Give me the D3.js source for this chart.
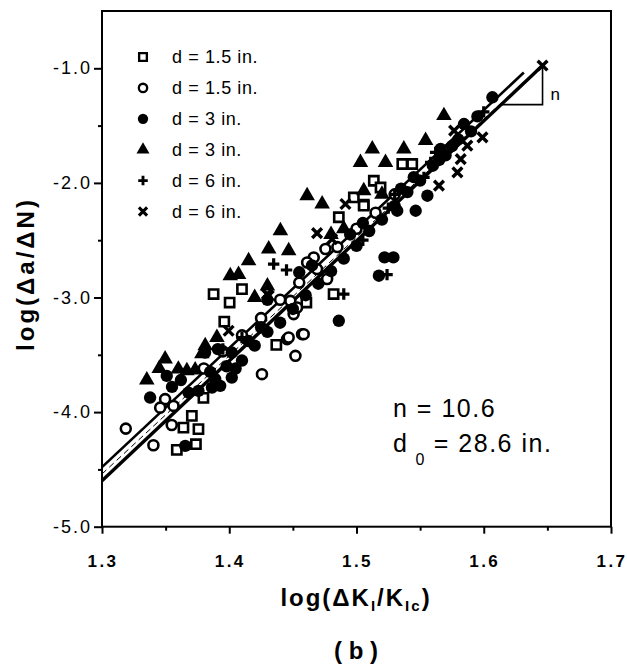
<!DOCTYPE html>
<html>
<head>
<meta charset="utf-8">
<script src="https://cdn.jsdelivr.net/npm/d3@7"></script>
<style>
  body { margin: 0; background: #fff; }
  text { font-family: "Liberation Sans", Arial, Helvetica, sans-serif; fill: #000; }
</style>
</head>
<body>
<div id="chart"></div>
<script>
// x = log(dK/KIc), y = log(da/dN)
const openSquares = [
  [1.3588, -4.330], [1.3738, -4.280], [1.3706, -4.033], [1.3640, -4.135], [1.3758, -4.149],
  [1.3797, -3.876], [1.3877, -2.970], [1.4003, -3.044], [1.3961, -3.210], [1.4100, -2.927],
  [1.4370, -3.413], [1.4606, -3.044], [1.4820, -2.970], [1.4861, -2.300], [1.5057, -2.190],
  [1.5360, -1.835], [1.5438, -1.835], [1.5136, -1.981], [1.4979, -2.127], [1.5057, -2.199],
  [1.5189, -2.040]
];
const openCircles = [
  [1.3187, -4.144], [1.3404, -4.289], [1.3548, -4.113], [1.3496, -3.887], [1.3562, -3.946],
  [1.3457, -3.961], [1.4257, -3.669], [1.4454, -3.363], [1.4572, -3.320], [1.4520, -3.509],
  [1.4506, -3.145], [1.4756, -2.577], [1.4664, -2.651], [1.4612, -2.694], [1.4769, -2.839],
  [1.4690, -2.752], [1.4480, -3.029], [1.4533, -3.087], [1.4585, -3.320], [1.4467, -3.349],
  [1.3800, -3.620], [1.3950, -3.470], [1.4100, -3.330], [1.4250, -3.180], [1.4400, -3.020],
  [1.4550, -2.870], [1.4850, -2.560], [1.5000, -2.400], [1.5150, -2.260], [1.5300, -2.100]
];
const filledCircles = [
  [1.3509, -3.684], [1.3378, -3.873], [1.3654, -4.295], [1.3758, -3.815], [1.3864, -3.786],
  [1.3929, -3.771], [1.3890, -3.712], [1.4020, -3.699], [1.3810, -3.480], [1.3910, -3.450],
  [1.4020, -3.480], [1.3680, -3.830], [1.3980, -3.600], [1.4050, -3.620], [1.4100, -3.550],
  [1.4200, -3.420], [1.4300, -3.300], [1.4400, -3.220], [1.4500, -3.100], [1.4600, -2.980],
  [1.4700, -2.880], [1.4800, -2.770], [1.4900, -2.660], [1.5000, -2.550], [1.5100, -2.420],
  [1.5200, -2.320], [1.5300, -2.200], [1.5400, -2.080], [1.5500, -1.980], [1.5600, -1.850],
  [1.5700, -1.760], [1.5800, -1.620], [1.4861, -3.203], [1.5220, -2.650], [1.5290, -2.650],
  [1.5176, -2.810], [1.5557, -2.112], [1.5465, -2.243], [1.5320, -2.243], [1.6068, -1.253],
  [1.5845, -1.486], [1.5661, -1.704], [1.3550, -3.780], [1.3620, -3.720], [1.3850, -3.650],
  [1.4300, -3.020], [1.4550, -2.780], [1.4650, -2.720], [1.4950, -2.450], [1.5050, -2.350],
  [1.5350, -2.050], [1.5450, -1.950], [1.5650, -1.800], [1.5750, -1.680], [1.5900, -1.550],
  [1.5950, -1.420], [1.4150, -3.380], [1.4250, -3.260]
];
const triangles = [
  [1.3496, -3.537], [1.3352, -3.719], [1.3600, -3.625], [1.3667, -3.640], [1.3732, -3.632],
  [1.3785, -3.490], [1.3903, -3.350], [1.3811, -3.420], [1.4008, -2.810], [1.4073, -2.800],
  [1.4152, -2.680], [1.4402, -2.417], [1.4310, -2.577], [1.4467, -2.592], [1.4730, -2.184],
  [1.4612, -2.112], [1.5124, -1.704], [1.5031, -1.821], [1.5228, -1.821], [1.5057, -2.068],
  [1.5372, -1.704], [1.5543, -1.631], [1.5687, -1.413], [1.4200, -3.000], [1.4300, -2.900],
  [1.4800, -2.450], [1.4900, -2.400], [1.5200, -2.100], [1.3450, -3.620]
];
const pluses = [
  [1.3950, -3.450], [1.4100, -3.350], [1.4450, -2.760], [1.4349, -2.708], [1.4900, -2.970],
  [1.5050, -2.500], [1.5300, -2.100], [1.5530, -1.952], [1.5583, -1.821], [1.5622, -1.734],
  [1.6000, -1.380], [1.5250, -2.220], [1.5240, -2.800]
];
const crosses = [
  [1.6462, -0.976], [1.5990, -1.603], [1.5819, -1.792], [1.5793, -1.908], [1.5648, -2.024],
  [1.5871, -1.675], [1.5767, -1.544], [1.4690, -2.438], [1.4808, -2.490], [1.4913, -2.184],
  [1.4297, -2.970], [1.3995, -3.290], [1.4310, -2.985]
];

const legendLabels = ['d = 1.5 in.', 'd = 1.5 in.', 'd = 3 in.', 'd = 3 in.', 'd = 6 in.', 'd = 6 in.'];

// fitted lines [x0, y0, x1, y1]
const fitUpper = [1.300, -4.48, 1.6315, -1.037];
const fitMiddle = [1.300, -4.54, 1.6440, -0.990];
const fitLower = [1.300, -4.60, 1.6462, -0.976];
const slopeTri = [[1.6136, -1.317], [1.6462, -1.317], [1.6462, -0.990]];

const xTicks = [1.3, 1.4, 1.5, 1.6, 1.7];
const yTicks = [-5.0, -4.0, -3.0, -2.0, -1.0];

const width = 627, height = 667;
const margin = { top: 11, right: 16, bottom: 141, left: 102 };

const svg = d3.select('#chart').append('svg')
  .attr('width', width)
  .attr('height', height);

const xScale = d3.scaleLinear().domain([1.3, 1.7]).range([margin.left, width - margin.right]);
const yScale = d3.scaleLinear().domain([-5, -0.5]).range([height - margin.bottom + 0.7, margin.top]);

const plusType = {
  draw(ctx, size) {
    const r = Math.sqrt(size) / 2;
    ctx.moveTo(-r, 0); ctx.lineTo(r, 0);
    ctx.moveTo(0, -r); ctx.lineTo(0, r);
  }
};
const timesType = {
  draw(ctx, size) {
    const r = Math.sqrt(size) / 2;
    ctx.moveTo(-r, -r); ctx.lineTo(r, r);
    ctx.moveTo(r, -r); ctx.lineTo(-r, r);
  }
};

const seriesStyle = [
  { data: openSquares, type: d3.symbolSquare, size: 85, fill: '#fff', sw: 2.6 },
  { data: openCircles, type: d3.symbolCircle, size: 78, fill: '#fff', sw: 2.6 },
  { data: filledCircles, type: d3.symbolCircle, size: 120, fill: '#000', sw: 0 },
  { data: triangles, type: d3.symbolTriangle, size: 105, fill: '#000', sw: 0 },
  { data: pluses, type: plusType, size: 130, fill: 'none', sw: 3.2 },
  { data: crosses, type: timesType, size: 95, fill: 'none', sw: 3.4 }
];

// fit lines
const line = d3.line().x(d => xScale(d[0])).y(d => yScale(d[1]));
const toPts = f => [[f[0], f[1]], [f[2], f[3]]];

svg.append('path').datum(toPts(fitUpper)).attr('d', line)
  .attr('stroke', '#000').attr('stroke-width', 2.6).attr('fill', 'none');
svg.append('path').datum(toPts(fitLower)).attr('d', line)
  .attr('stroke', '#000').attr('stroke-width', 3.4).attr('fill', 'none');
svg.append('path').datum(toPts(fitMiddle)).attr('d', line)
  .attr('stroke', '#000').attr('stroke-width', 1).attr('stroke-dasharray', '6,4').attr('fill', 'none');

svg.append('path').datum(slopeTri).attr('d', line)
  .attr('stroke', '#000').attr('stroke-width', 1.6).attr('fill', 'none');
svg.append('text')
  .attr('x', xScale(1.6525)).attr('y', yScale(-1.22) + 6)
  .attr('font-size', 17).text('n');

// markers
seriesStyle.forEach(s => {
  svg.append('g').selectAll('path')
    .data(s.data)
    .join('path')
    .attr('transform', d => `translate(${xScale(d[0])},${yScale(d[1])})`)
    .attr('d', d3.symbol().type(s.type).size(s.size))
    .attr('fill', s.fill)
    .attr('stroke', s.sw ? '#000' : 'none')
    .attr('stroke-width', s.sw);
});

// axes
const xAxis = d3.axisBottom(xScale).tickValues(d3.range(1.3, 1.7001, 0.05)).tickSize(7).tickFormat('');
const yAxis = d3.axisLeft(yScale).tickValues(d3.range(-5, -0.999, 0.5)).tickSize(7).tickFormat('');

const gx = svg.append('g').attr('transform', `translate(0,${yScale(-5)})`).call(xAxis);
const gy = svg.append('g').attr('transform', `translate(${margin.left},0)`).call(yAxis);
[gx, gy].forEach(g => {
  g.select('.domain').remove();
  g.selectAll('line').attr('stroke', '#000').attr('stroke-width', 2);
});
gx.selectAll('.tick line').attr('y2', (d, i) => i % 2 === 0 ? 7 : 4);
gy.selectAll('.tick line').attr('x2', (d, i) => i % 2 === 0 ? -8 : -4);

svg.append('rect')
  .attr('x', margin.left).attr('y', margin.top)
  .attr('width', xScale(1.7) - margin.left).attr('height', yScale(-5) - margin.top)
  .attr('fill', 'none').attr('stroke', '#000').attr('stroke-width', 2);

svg.append('g').selectAll('text').data(xTicks).join('text')
  .attr('x', d => xScale(d) + 1).attr('y', yScale(-5) + 40)
  .attr('text-anchor', 'middle').attr('font-size', 17).attr('font-weight', 'bold').attr('letter-spacing', 2.5)
  .text(d => d.toFixed(1));

svg.append('g').selectAll('text').data(yTicks).join('text')
  .attr('x', 92).attr('y', d => yScale(d) + 6)
  .attr('text-anchor', 'end').attr('font-size', 18).attr('letter-spacing', 2)
  .text(d => d.toFixed(1));

// legend
const legend = svg.append('g');
seriesStyle.forEach((s, i) => {
  const y = 57 + i * 30.9;
  legend.append('path')
    .attr('transform', `translate(143,${y})`)
    .attr('d', d3.symbol().type(s.type).size(s.size * 0.7))
    .attr('fill', s.fill)
    .attr('stroke', s.sw ? '#000' : 'none')
    .attr('stroke-width', s.sw ? s.sw * 0.9 : 0);
  legend.append('text')
    .attr('x', 172).attr('y', y + 6)
    .attr('font-size', 18).attr('letter-spacing', 0.6)
    .text(legendLabels[i]);
});

// annotations
svg.append('text').attr('x', 393).attr('y', 417)
  .attr('font-size', 25).attr('letter-spacing', 1.5).text('n = 10.6');
const d0 = svg.append('text').attr('x', 393).attr('y', 452)
  .attr('font-size', 25).attr('letter-spacing', 1.5);
d0.append('tspan').text('d');
d0.append('tspan').attr('font-size', 16).attr('dx', 7).attr('dy', 13).text('0');
d0.append('tspan').attr('dx', 8).attr('dy', -13).text('= 28.6 in.');

// axis titles
const xt = svg.append('text')
  .attr('x', 356).attr('y', 606)
  .attr('text-anchor', 'middle').attr('font-size', 24).attr('font-weight', 'bold').attr('letter-spacing', 2);
xt.append('tspan').text('log(ΔK');
xt.append('tspan').attr('font-size', 15).attr('dy', 5).text('I');
xt.append('tspan').attr('dy', -5).text('/K');
xt.append('tspan').attr('font-size', 15).attr('dy', 5).text('Ic');
xt.append('tspan').attr('dy', -5).text(')');

svg.append('text')
  .attr('transform', 'translate(34,274) rotate(-90)')
  .attr('text-anchor', 'middle').attr('font-size', 24).attr('font-weight', 'bold').attr('letter-spacing', 3)
  .text('log(Δa/ΔN)');

svg.append('text')
  .attr('x', 356).attr('y', 659)
  .attr('text-anchor', 'middle').attr('font-size', 24).attr('font-weight', 'bold')
  .text('( b )');
</script>
</body>
</html>
